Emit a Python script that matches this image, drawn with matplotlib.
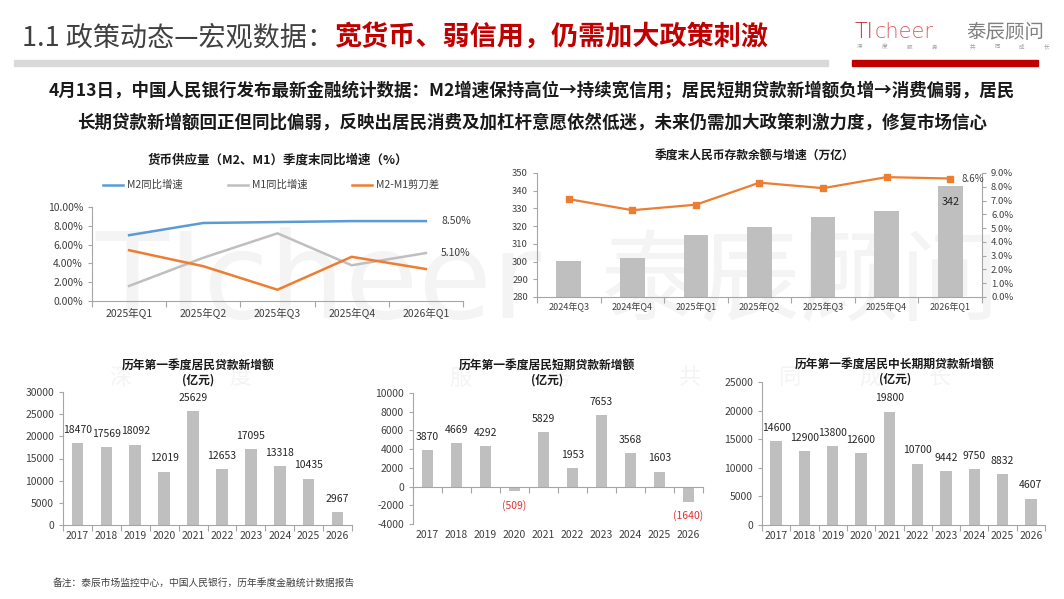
import matplotlib
matplotlib.use("Agg")
import matplotlib.pyplot as plt
from matplotlib.ticker import FuncFormatter, FixedLocator
from matplotlib.lines import Line2D
import numpy as np

plt.rcParams['font.family'] = ['Noto Sans CJK SC', 'DejaVu Sans']
plt.rcParams['axes.unicode_minus'] = False

W, H = 1064, 599

# ---------------- data ----------------
quarters5 = ["2025年Q1", "2025年Q2", "2025年Q3", "2025年Q4", "2026年Q1"]
m2_growth = [7.0, 8.3, 8.4, 8.5, 8.5]
m1_growth = [1.6, 4.6, 7.2, 3.8, 5.1]
scissors = [5.4, 3.7, 1.2, 4.7, 3.4]
series_names = ["M2同比增速", "M1同比增速", "M2-M1剪刀差"]

quarters7 = ["2024年Q3", "2024年Q4", "2025年Q1", "2025年Q2", "2025年Q3", "2025年Q4", "2026年Q1"]
deposit_balance = [300.5, 302.2, 315.2, 319.7, 325.0, 328.4, 342.4]
deposit_growth = [7.1, 6.3, 6.7, 8.3, 7.9, 8.7, 8.6]

years = ["2017", "2018", "2019", "2020", "2021", "2022", "2023", "2024", "2025", "2026"]
total_loans = [18470, 17569, 18092, 12019, 25629, 12653, 17095, 13318, 10435, 2967]
short_loans = [3870, 4669, 4292, -509, 5829, 1953, 7653, 3568, 1603, -1640]
long_loans = [14600, 12900, 13800, 12600, 19800, 10700, 9442, 9750, 8832, 4607]

BLUE = "#5B9BD5"
GRAY_LINE = "#BFBFBF"
ORANGE = "#ED7D31"
BAR = "#BFBFBF"
RED = "#C00000"
AXC = "#A6A6A6"
TXT = "#404040"

fig = plt.figure(figsize=(W / 100, H / 100), dpi=100)
fig.patch.set_facecolor("white")


def rect(l, t, r, b):
    return [l / W, 1 - b / H, (r - l) / W, (b - t) / H]


def fx(x):
    return x / W


def fy(y):
    return 1 - y / H


# ---------------- watermark (behind everything) ----------------
WM = "#F4F4F4"
fig.text(fx(95), fy(285), "TIcheer", fontsize=86, color=WM, va="center", ha="left",
         family=["DejaVu Sans"], zorder=-5)
fig.text(fx(600), fy(285), "泰辰顾问", fontsize=72, color=WM, va="center", ha="left", zorder=-5)
for ch, x in zip("深度服务共同成长", [120, 240, 460, 560, 690, 790, 870, 940]):
    fig.text(fx(x), fy(378), ch, fontsize=16, color=WM, va="center", ha="center", zorder=-5)

# ---------------- header ----------------
t1 = fig.text(fx(22), fy(38), "1.1 政策动态—宏观数据：", fontsize=19.5, color="#404040",
              va="center", ha="left")
fig.canvas.draw()
bb = t1.get_window_extent()
fig.text(bb.x1 / W, fy(38), "宽货币、弱信用，仍需加大政策刺激", fontsize=19.5, color=RED,
         fontweight="bold", va="center", ha="left")
fig.patches.append(plt.Rectangle((fx(14), fy(66)), fx(828) - fx(14), (66 - 60) / H,
                                 transform=fig.transFigure, color="#D9D9D9", zorder=1))
fig.patches.append(plt.Rectangle((fx(852), fy(66)), fx(1038) - fx(852), (66 - 60) / H,
                                 transform=fig.transFigure, color=RED, zorder=1))
# logo
fig.text(fx(855), fy(32), "TI", fontsize=15, color="#C0282D", va="center", ha="left",
         family=["DejaVu Sans"], fontweight="light")
fig.text(fx(875), fy(32), "cheer", fontsize=15, color="#D9626A", va="center", ha="left",
         family=["DejaVu Sans"], fontweight="light")
fig.text(fx(966), fy(32), "泰辰顾问", fontsize=14, color="#808080", va="center", ha="left")
for ch, x in zip("深度服务共同成长", [860, 885, 910, 935, 972, 997, 1022, 1046]):
    fig.text(fx(x), fy(47), ch, fontsize=4, color="#A0A0A0", va="center", ha="center")

fig.text(0.5, fy(91), "4月13日，中国人民银行发布最新金融统计数据：M2增速保持高位→持续宽信用；居民短期贷款新增额负增→消费偏弱，居民",
         fontsize=12.6, fontweight="bold", color="#1a1a1a", va="center", ha="center")
fig.text(0.5, fy(123), "长期贷款新增额回正但同比偏弱，反映出居民消费及加杠杆意愿依然低迷，未来仍需加大政策刺激力度，修复市场信心",
         fontsize=12.6, fontweight="bold", color="#1a1a1a", va="center", ha="center")

fig.text(fx(53), fy(583), "备注：泰辰市场监控中心，中国人民银行，历年季度金融统计数据报告",
         fontsize=7, color="#404040", va="center", ha="left")


def style_axes(ax):
    ax.set_facecolor("none")
    for s in ["top", "right"]:
        ax.spines[s].set_visible(False)
    for s in ["left", "bottom"]:
        ax.spines[s].set_color(AXC)
        ax.spines[s].set_linewidth(0.8)
    ax.tick_params(axis="y", colors=TXT, labelsize=7.5, length=3, width=0.8, color=AXC)
    ax.tick_params(axis="x", colors=TXT, labelsize=7.5, length=0)


def boundary_ticks(ax, n):
    ax.xaxis.set_minor_locator(FixedLocator(np.arange(-0.5, n, 1.0)))
    ax.tick_params(axis="x", which="minor", length=4, width=0.8, color=AXC)


# ---------------- top-left: M2/M1 ----------------
ax1 = fig.add_axes(rect(92, 207, 463, 301))
style_axes(ax1)
x5 = np.arange(len(quarters5))
colors3 = [BLUE, GRAY_LINE, ORANGE]
for vals, c, name in zip([m2_growth, m1_growth, scissors], colors3, series_names):
    ax1.plot(x5, vals, color=c, lw=1.8, label=name)
ax1.set_xlim(-0.5, len(quarters5) - 0.5)
ax1.set_ylim(0, 10)
ax1.set_yticks(np.arange(0, 10.1, 2))
ax1.yaxis.set_major_formatter(FuncFormatter(lambda v, p: f"{v:.2f}%"))
ax1.set_xticks(x5)
ax1.set_xticklabels(quarters5)
boundary_ticks(ax1, len(quarters5))
ax1.tick_params(axis="x", pad=5)
ax1.annotate(f"{m2_growth[-1]:.2f}%", (x5[-1], m2_growth[-1]), xytext=(11, 0),
             textcoords="offset points", va="center", ha="left", fontsize=7.5, color=TXT)
ax1.annotate(f"{m1_growth[-1]:.2f}%", (x5[-1], m1_growth[-1]), xytext=(11, 0),
             textcoords="offset points", va="center", ha="left", fontsize=7.5, color=TXT)
fig.text(fx(278), fy(160), "货币供应量（M2、M1）季度末同比增速（%）", fontsize=9, fontweight="bold",
         color="#1a1a1a", ha="center", va="center")
for (line, name, xs) in zip(ax1.get_lines(), series_names, [103, 228, 352]):
    fig.add_artist(Line2D([fx(xs), fx(xs + 20)], [fy(185), fy(185)], color=line.get_color(),
                          lw=1.8, transform=fig.transFigure))
    fig.text(fx(xs + 24), fy(185), name, fontsize=7.5, color=TXT, va="center", ha="left")

# ---------------- top-right: deposits ----------------
ax2 = fig.add_axes(rect(537, 173, 982, 297))
style_axes(ax2)
x7 = np.arange(len(quarters7))
ax2.bar(x7, deposit_balance, width=0.39, color=BAR, zorder=2)
ax2.set_ylim(280, 350)
ax2.set_yticks(np.arange(280, 351, 10))
ax2.set_xlim(-0.5, len(quarters7) - 0.5)
ax2.set_xticks(x7)
ax2.set_xticklabels(quarters7)
ax2.tick_params(axis="x", labelsize=6.5, pad=4)
ax2.tick_params(axis="y", labelsize=6.8)
boundary_ticks(ax2, len(quarters7))
ax2.annotate(f"{deposit_balance[-1]:.0f}", (x7[-1], deposit_balance[-1]), xytext=(0, -11),
             textcoords="offset points", va="center", ha="center", fontsize=7.8, color="#262626", zorder=5)
ax2r = ax2.twinx()
ax2r.set_facecolor("none")
for s in ["top", "left", "bottom"]:
    ax2r.spines[s].set_visible(False)
ax2r.spines["right"].set_color(AXC)
ax2r.spines["right"].set_linewidth(0.8)
ax2r.plot(x7, deposit_growth, color=ORANGE, lw=1.6, marker="s", markersize=5, zorder=4)
ax2r.set_ylim(0, 9)
ax2r.set_yticks(np.arange(0, 9.1, 1))
ax2r.yaxis.set_major_formatter(FuncFormatter(lambda v, p: f"{v:.1f}%"))
ax2r.tick_params(axis="y", colors=TXT, labelsize=6.8, length=3, width=0.8, color=AXC)
ax2r.annotate(f"{deposit_growth[-1]:.1f}%", (x7[-1], deposit_growth[-1]), xytext=(8, 0),
              textcoords="offset points", va="center", ha="left", fontsize=7, color=TXT)
fig.text(fx(755), fy(155), "季度末人民币存款余额与增速（万亿）", fontsize=8.5, fontweight="bold",
         color="#1a1a1a", ha="center", va="center")


# ---------------- bottom bar charts ----------------
def bar_chart(box, values, ylim, step, title_center, title):
    ax = fig.add_axes(rect(*box))
    style_axes(ax)
    xs = np.arange(len(years))
    ax.bar(xs, values, width=0.4, color=BAR, zorder=2)
    ax.set_xlim(-0.5, len(years) - 0.5)
    ax.set_ylim(*ylim)
    ax.set_yticks(np.arange(ylim[0], ylim[1] + 1, step))
    ax.set_xticks(xs)
    boundary_ticks(ax, len(years))
    if ylim[0] < 0:
        # axis line at zero, year labels along the bottom edge
        ax.spines["bottom"].set_position(("data", 0))
        ax.set_xticklabels([])
        for x, y in zip(xs, years):
            ax.annotate(y, (x, ylim[0]), xytext=(0, -4), textcoords="offset points",
                        ha="center", va="top", fontsize=7.5, color=TXT, annotation_clip=False)
    else:
        ax.set_xticklabels(years)
        ax.tick_params(axis="x", pad=4)
    for x, v in zip(xs, values):
        if v >= 0:
            ax.annotate(f"{v}", (x, v), xytext=(0, 6), textcoords="offset points",
                        ha="center", va="bottom", fontsize=7.5, color="#262626")
        else:
            ax.annotate(f"({-v})", (x, v), xytext=(0, -6), textcoords="offset points",
                        ha="center", va="top", fontsize=7.5, color="#E0302F")
    fig.text(fx(title_center[0]), fy(title_center[1]), title, fontsize=8.5, fontweight="bold",
             color="#1a1a1a", ha="center", va="center", linespacing=1.15)
    return ax


bar_chart((63, 392, 352, 525), total_loans, (0, 30000), 5000, (198, 373),
          "历年第一季度居民贷款新增额\n(亿元)")
bar_chart((413, 393, 703, 524), short_loans, (-4000, 10000), 2000, (547, 373),
          "历年第一季度居民短期贷款新增额\n(亿元)")
bar_chart((762, 382, 1045, 525), long_loans, (0, 25000), 5000, (895, 372),
          "历年第一季度居民中长期期贷款新增额\n(亿元)")

fig.savefig("out.png", dpi=100, facecolor="white")
